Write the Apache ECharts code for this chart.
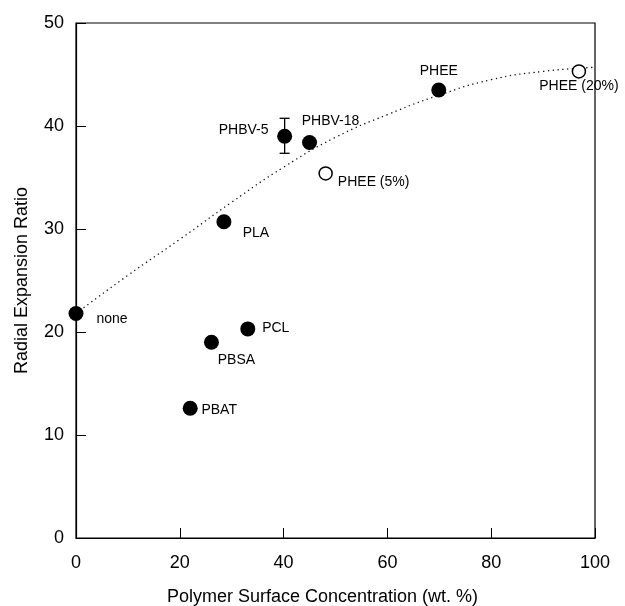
<!DOCTYPE html>
<html>
<head>
<meta charset="utf-8">
<script src="https://cdn.jsdelivr.net/npm/echarts@6/dist/echarts.min.js"></script>
<style>html,body{margin:0;padding:0;background:#fff}#c{width:625px;height:606px}</style>
</head>
<body>
<div id="c"></div>
<script>
// ---- data ----
const filledNames = ['none', 'PBAT', 'PBSA', 'PCL', 'PLA', 'PHBV-5', 'PHBV-18', 'PHEE'];
const filledX = [0, 22.0, 26.1, 33.1, 28.5, 40.2, 45.0, 69.9];
const filledY = [21.8, 12.6, 19.0, 20.3, 30.7, 39.0, 38.4, 43.5];
const openNames = ['PHEE (5%)', 'PHEE (20%)'];
const openX = [48.1, 96.9];
const openY = [35.4, 45.3];
const errName = ['PHBV-5'];
const errX = [40.2];
const errLow = [37.35];
const errHigh = [40.75];
const curveX = [0, 10, 20, 30, 40, 50, 60, 70, 80, 90, 100];
const curveY = [21.8, 25.5, 29.0, 32.6, 36.0, 38.9, 41.1, 43.0, 44.5, 45.3, 45.7];
const xTicks = [0, 20, 40, 60, 80, 100];
const yTicks = [0, 10, 20, 30, 40, 50];

// ---- label placement (style, not data) ----
const labelOffsets = {
  'none': [36, 6], 'PBAT': [29, 2], 'PBSA': [25, 18], 'PCL': [28, -1],
  'PLA': [32, 11], 'PHBV-5': [-41, -6], 'PHBV-18': [21, -21],
  'PHEE': [0, -19], 'PHEE (5%)': [48, 9], 'PHEE (20%)': [0, 15]
};
const FONT = '"Liberation Sans", Arial, Helvetica, sans-serif';

function pts(names, xs, ys) {
  return names.map((n, i) => ({
    name: n, value: [xs[i], ys[i]],
    label: { show: true, position: 'inside', offset: labelOffsets[n], formatter: n,
             color: '#000', fontSize: 14, fontFamily: FONT, align: 'center', verticalAlign: 'middle' }
  }));
}

const chart = echarts.init(document.getElementById('c'), null, { renderer: 'canvas' });
chart.setOption({
  backgroundColor: '#fff',
  animation: false,
  grid: { left: 76, right: 30, top: 23, bottom: 68, containLabel: false, outerBoundsMode: 'none',
          show: true, borderColor: '#000', borderWidth: 1.2 },
  xAxis: {
    type: 'value', min: 0, max: 100, interval: 20,
    name: 'Polymer Surface Concentration (wt. %)', nameLocation: 'middle', nameGap: 50,
    nameTextStyle: { fontSize: 18, fontFamily: FONT, color: '#000', padding: [0, 26, 0, 0] },
    axisLine: { show: true, lineStyle: { color: '#000', width: 1.2 } },
    axisTick: { show: true, inside: true, length: 10, lineStyle: { color: '#000', width: 1 } },
    axisLabel: { fontSize: 18, fontFamily: FONT, color: '#000', margin: 16 },
    splitLine: { show: false }
  },
  yAxis: {
    type: 'value', min: 0, max: 50, interval: 10,
    name: 'Radial Expansion Ratio', nameLocation: 'middle', nameGap: 45,
    nameTextStyle: { fontSize: 18, fontFamily: FONT, color: '#000' },
    axisLine: { show: true, lineStyle: { color: '#000', width: 1.2 } },
    axisTick: { show: true, inside: true, length: 10, lineStyle: { color: '#000', width: 1 } },
    axisLabel: { fontSize: 18, fontFamily: FONT, color: '#000', margin: 12 },
    splitLine: { show: false }
  },
  series: [
    {
      type: 'line', data: curveX.map((x, i) => [x, curveY[i]]), smooth: 0.5,
      symbol: 'none', silent: true, z: 1,
      lineStyle: { color: '#111', width: 1.3, type: [1.3, 3.5] }
    },
    {
      type: 'custom', z: 2, clip: false,
      data: errX.map((x, i) => [x, errLow[i], errHigh[i]]),
      renderItem: function (params, api) {
        const lo = api.coord([api.value(0), api.value(1)]);
        const hi = api.coord([api.value(0), api.value(2)]);
        const w = 5;
        const st = { stroke: '#000', lineWidth: 1.3 };
        return { type: 'group', children: [
          { type: 'line', shape: { x1: lo[0], y1: lo[1], x2: hi[0], y2: hi[1] }, style: st },
          { type: 'line', shape: { x1: lo[0] - w, y1: lo[1], x2: lo[0] + w, y2: lo[1] }, style: st },
          { type: 'line', shape: { x1: hi[0] - w, y1: hi[1], x2: hi[0] + w, y2: hi[1] }, style: st }
        ]};
      }
    },
    {
      type: 'scatter', z: 3, clip: false, symbol: 'circle', symbolSize: 15,
      itemStyle: { color: '#000', opacity: 1 },
      data: pts(filledNames, filledX, filledY)
    },
    {
      type: 'scatter', z: 3, clip: false, symbol: 'circle', symbolSize: 13,
      itemStyle: { color: '#fff', borderColor: '#000', borderWidth: 1.5, opacity: 1 },
      data: pts(openNames, openX, openY)
    }
  ]
});
</script>
</body>
</html>
